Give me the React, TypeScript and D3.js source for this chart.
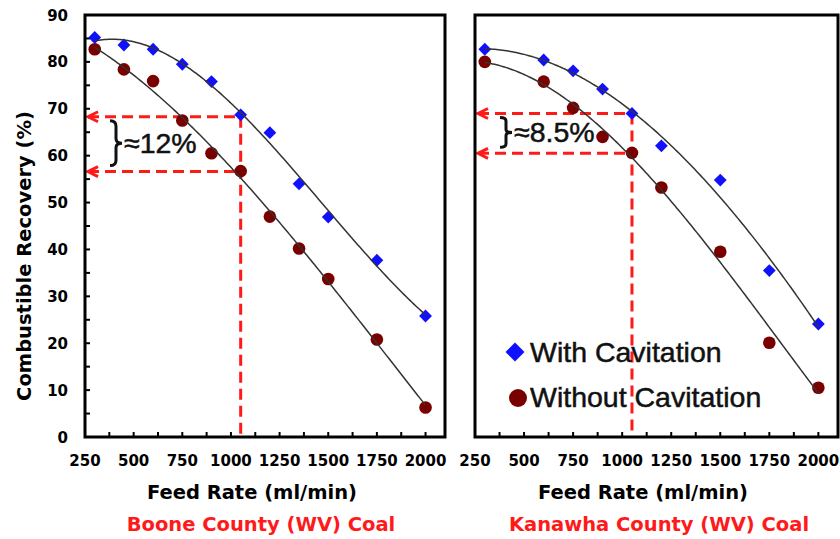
import * as d3 from 'd3';

// Boone County (WV) coal
const booneRates = [300, 450, 600, 750, 900, 1050, 1200, 1350, 1500, 1750, 2000];
const booneWith = [85.2, 83.6, 82.7, 79.5, 75.8, 68.7, 64.9, 54.0, 46.9, 37.7, 25.8];
const booneWithout = [82.7, 78.4, 75.9, 67.5, 60.5, 56.7, 47.0, 40.2, 33.7, 20.8, 6.3];

// Kanawha County (WV) coal
const kanawhaRates = [300, 600, 750, 900, 1050, 1200, 1500, 1750, 2000];
const kanawhaWith = [82.7, 80.4, 78.1, 74.2, 69.0, 62.1, 54.8, 35.5, 24.1];
const kanawhaWithout = [80.0, 75.8, 70.2, 64.0, 60.6, 53.2, 39.5, 20.1, 10.5];

const xTickValues = [250, 500, 750, 1000, 1250, 1500, 1750, 2000];
const yTickValues = [0, 10, 20, 30, 40, 50, 60, 70, 80, 90];

// dashed guide: feed rate, upper / lower recovery, label
const booneGuide = { rate: 1050, high: 68.3, low: 56.6, label: '≈12%' };
const kanawhaGuide = { rate: 1050, high: 69.0, low: 60.5, label: '≈8.5%' };

const BLUE = '#1010ff';
const DARK_RED = '#7a0000';
const RED = '#ff1a1a';
const BOLD_FONT = 'DejaVu Sans';
const ARIAL = 'Liberation Sans';

// least squares cubic trend line
function cubicFit(xs: number[], ys: number[]) {
	const n = 4;
	const A = d3.range(n).map(() => new Array(n + 1).fill(0));
	xs.forEach((xv, k) => {
		const t = xv / 1000;
		for (let i = 0; i < n; i++) {
			for (let j = 0; j < n; j++) A[i][j] += Math.pow(t, i + j);
			A[i][n] += ys[k] * Math.pow(t, i);
		}
	});
	for (let c = 0; c < n; c++) {
		let p = c;
		for (let r = c + 1; r < n; r++) if (Math.abs(A[r][c]) > Math.abs(A[p][c])) p = r;
		[A[c], A[p]] = [A[p], A[c]];
		for (let r = 0; r < n; r++) {
			if (r === c) continue;
			const f = A[r][c] / A[c][c];
			for (let k = c; k <= n; k++) A[r][k] -= f * A[c][k];
		}
	}
	const coef = A.map((row, i) => row[n] / row[i]);
	return (xv: number) => {
		const t = xv / 1000;
		return coef[0] + coef[1] * t + coef[2] * t * t + coef[3] * t * t * t;
	};
}

function bracePath(x: number, y1: number, y2: number, w: number) {
	const ym = (y1 + y2) / 2;
	const h = y2 - y1;
	const xm = x + w / 2;
	const p = d3.path();
	p.moveTo(x, y1);
	p.quadraticCurveTo(xm, y1, xm, y1 + h * 0.12);
	p.lineTo(xm, ym - h * 0.1);
	p.quadraticCurveTo(xm, ym, x + w, ym);
	p.quadraticCurveTo(xm, ym, xm, ym + h * 0.1);
	p.lineTo(xm, y2 - h * 0.12);
	p.quadraticCurveTo(xm, y2, x, y2);
	return p.toString();
}

const y = d3.scaleLinear().domain([0, 90]).range([437, 15]);

function Panel({ left, right, rates, withCav, withoutCav, guide, showY, legend, title, subtitle, titleX, subX }) {
	const x = d3.scaleLinear().domain([250, 2100]).range([left, right]);
	const bottom = y(0);
	const top = y(90);
	const minorX = d3.range(250, 2001, 125);
	const minorY = d3.range(0, 91, 5);
	const samples = d3.range(rates[0], rates[rates.length - 1] + 1, 10);
	const fitWith = cubicFit(rates, withCav);
	const fitWithout = cubicFit(rates, withoutCav);
	const linePath = (f) =>
		d3
			.line<number>()
			.x((d) => x(d))
			.y((d) => y(f(d)))(samples);
	const diamond = d3.symbol(d3.symbolSquare, 82)();
	const legendDiamond = d3.symbol(d3.symbolSquare, 180)();

	const gx = x(guide.rate);
	const gyHigh = y(guide.high);
	const gyLow = y(guide.low);
	const arrowX = left + 3;

	return (
		<g>
			{/* ticks */}
			{minorX.map((t) => (
				<line key={'xt' + t} x1={x(t)} x2={x(t)} y1={bottom} y2={bottom - 5} stroke='#000' strokeWidth={2} />
			))}
			{showY &&
				minorY.map((t) => (
					<line key={'yt' + t} x1={left} x2={left + 5} y1={y(t)} y2={y(t)} stroke='#000' strokeWidth={2} />
				))}

			{/* dashed guide lines */}
			<g stroke={RED} strokeWidth={3} fill='none'>
				<line x1={arrowX} x2={gx} y1={gyHigh} y2={gyHigh} strokeDasharray='11,6' />
				<line x1={arrowX} x2={gx} y1={gyLow} y2={gyLow} strokeDasharray='11,6' />
				<line x1={gx} x2={gx} y1={gyHigh} y2={bottom} strokeDasharray='11,6' />
				<polyline points={`${arrowX + 10},${gyHigh - 5} ${arrowX},${gyHigh} ${arrowX + 10},${gyHigh + 5}`} />
				<polyline points={`${arrowX + 10},${gyLow - 5} ${arrowX},${gyLow} ${arrowX + 10},${gyLow + 5}`} />
			</g>
			<path
				d={bracePath(left + 25, gyHigh + 4, gyLow - 6, 12)}
				fill='none'
				stroke='#111'
				strokeWidth={3}
			/>
			<text
				x={left + 39}
				y={(gyHigh + gyLow) / 2 + 9}
				fontFamily={ARIAL}
				fontSize={28.5}
				fill='#111'
				stroke='#111'
				strokeWidth={0.5}>
				{guide.label}
			</text>

			{/* markers */}
			{rates.map((r, i) => (
				<circle key={'wo' + r} cx={x(r)} cy={y(withoutCav[i])} r={6.3} fill={DARK_RED} />
			))}
			{rates.map((r, i) => (
				<path
					key={'w' + r}
					d={diamond}
					transform={`translate(${x(r)},${y(withCav[i])}) rotate(45)`}
					fill={BLUE}
				/>
			))}

			{/* trend lines */}
			<path d={linePath(fitWith)} fill='none' stroke='#333' strokeWidth={1.5} />
			<path d={linePath(fitWithout)} fill='none' stroke='#333' strokeWidth={1.5} />

			{/* frame */}
			<rect x={left} y={top} width={right - left} height={bottom - top} fill='none' stroke='#000' strokeWidth={3} />

			{/* tick labels */}
			{xTickValues.map((t) => (
				<text
					key={'xl' + t}
					x={x(t)}
					y={466}
					textAnchor='middle'
					fontFamily={BOLD_FONT}
					fontWeight='bold'
					fontSize={15}>
					{t}
				</text>
			))}
			{showY &&
				yTickValues.map((t) => (
					<text
						key={'yl' + t}
						x={68}
						y={y(t) + 5.5}
						textAnchor='end'
						fontFamily={BOLD_FONT}
						fontWeight='bold'
						fontSize={15}>
						{t}
					</text>
				))}

			<text x={titleX} y={499} textAnchor='middle' fontFamily={BOLD_FONT} fontWeight='bold' fontSize={19.5}>
				{title}
			</text>
			<text
				x={subX}
				y={531}
				textAnchor='middle'
				fontFamily={BOLD_FONT}
				fontWeight='bold'
				fontSize={19.5}
				fill={RED}>
				{subtitle}
			</text>

			{legend && (
				<g fontFamily={ARIAL} fontSize={28.5} fill='#111' stroke='#111' strokeWidth={0.5}>
					<path d={legendDiamond} transform='translate(515,352) rotate(45)' fill={BLUE} stroke='none' />
					<text x={530} y={362}>
						With Cavitation
					</text>
					<circle cx={518} cy={398} r={9} fill={DARK_RED} stroke='none' />
					<text x={530} y={407}>
						Without Cavitation
					</text>
				</g>
			)}
		</g>
	);
}

export default function App() {
	return (
		<svg width={840} height={539} style={{ position: 'absolute', left: 0, top: 0, background: '#fff' }}>
			<rect width={840} height={539} fill='#fff' />
			<Panel
				left={85}
				right={445}
				rates={booneRates}
				withCav={booneWith}
				withoutCav={booneWithout}
				guide={booneGuide}
				showY={true}
				legend={false}
				title='Feed Rate (ml/min)'
				subtitle='Boone County (WV) Coal'
				titleX={252}
				subX={261}
			/>
			<Panel
				left={475}
				right={838}
				rates={kanawhaRates}
				withCav={kanawhaWith}
				withoutCav={kanawhaWithout}
				guide={kanawhaGuide}
				showY={false}
				legend={true}
				title='Feed Rate (ml/min)'
				subtitle='Kanawha County (WV) Coal'
				titleX={643}
				subX={659}
			/>
			<text
				transform='translate(31,256) rotate(-90)'
				textAnchor='middle'
				fontFamily={BOLD_FONT}
				fontWeight='bold'
				fontSize={19.5}>
				Combustible Recovery (%)
			</text>
		</svg>
	);
}
